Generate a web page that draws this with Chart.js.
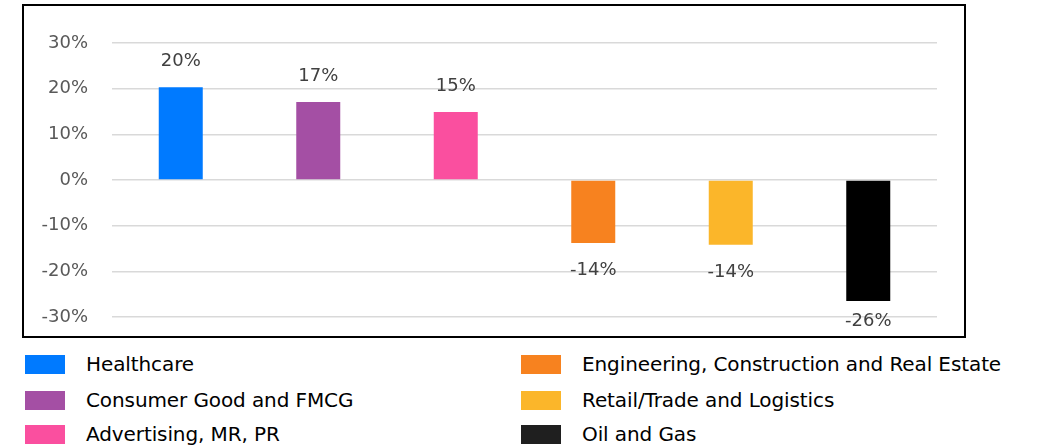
<!DOCTYPE html>
<html>
<head>
<meta charset="utf-8">
<script src="https://cdn.jsdelivr.net/npm/chart.js@4/dist/chart.umd.min.js"></script>
<style>
  body { margin: 0; background: #fff; width: 1053px; height: 448px; overflow: hidden; position: relative; font-family: "DejaVu Sans", Verdana, sans-serif; }
  #box { position: absolute; left: 22px; top: 4px; width: 940px; height: 330px; border: 2px solid #000; }
  #chart { display: block; width: 940px; height: 330px; }
  #legend { position: absolute; left: 0; top: 354px; width: 1053px; }
  .item { position: absolute; display: flex; align-items: center; height: 20px; font-size: 20px; letter-spacing: -0.1px; color: #000; white-space: nowrap; }
  .swatch { width: 40px; height: 19px; margin-right: 21px; flex: none; }
</style>
</head>
<body>
<div id="box"><canvas id="chart" width="940" height="330"></canvas></div>
<div id="legend"></div>
<script>
const categories = ['Healthcare', 'Consumer Good and FMCG', 'Advertising, MR, PR',
    'Engineering, Construction and Real Estate', 'Retail/Trade and Logistics', 'Oil and Gas'];
const changes = [20.3, 17.1, 14.9, -13.8, -14.2, -26.5];
const barColors = ['#007aff', '#a44fa4', '#fa4f9f', '#f7821f', '#fbb62a', '#000000'];
const yTicks = [-30, -20, -10, 0, 10, 20, 30];

// data labels above / below each bar
const valueLabels = {
    id: 'valueLabels',
    afterDatasetsDraw(chart) {
        const ctx = chart.ctx;
        const meta = chart.getDatasetMeta(0);
        ctx.save();
        ctx.font = '18px "DejaVu Sans", Verdana, sans-serif';
        ctx.fillStyle = '#404040';
        ctx.textAlign = 'center';
        ctx.textBaseline = 'middle';
        meta.data.forEach((bar, i) => {
            const v = changes[i];
            let y;
            if (v >= 0) {
                y = bar.y - 26;
            } else {
                y = Math.min(bar.y + 27, chart.chartArea.bottom + 4);
            }
            ctx.fillText(Math.round(v) + '%', bar.x, y);
        });
        ctx.restore();
    }
};

new Chart(document.getElementById('chart'), {
    type: 'bar',
    data: {
        labels: categories,
        datasets: [{
            data: changes,
            backgroundColor: barColors,
            borderWidth: 0,
            categoryPercentage: 1,
            barPercentage: 0.32
        }]
    },
    options: {
        responsive: false,
        maintainAspectRatio: false,
        animation: false,
        layout: { padding: { top: 37, bottom: 19, right: 27, left: 0 } },
        plugins: { legend: { display: false }, tooltip: { enabled: false } },
        scales: {
            x: { display: false },
            y: {
                min: -30,
                max: 30,
                afterFit(scale) {
                    scale.width = 88;
                    // tick padding shouldn't eat vertical space
                    scale.paddingTop = 0;
                    scale.paddingBottom = 0;
                },
                afterBuildTicks(scale) { scale.ticks = yTicks.map(v => ({ value: v })); },
                border: { display: false },
                grid: { color: '#d9d9d9', lineWidth: 1.5, drawTicks: false },
                ticks: {
                    padding: 24,
                    color: '#595959',
                    font: { family: '"DejaVu Sans", Verdana, sans-serif', size: 18 },
                    callback: v => v + '%'
                }
            }
        }
    },
    plugins: [valueLabels]
});

// two-column legend, filled column by column
const legend = document.getElementById('legend');
categories.forEach((name, i) => {
    const col = Math.floor(i / 3);
    const row = i % 3;
    const item = document.createElement('div');
    item.className = 'item';
    item.style.left = (col ? 521 : 25) + 'px';
    item.style.top = [0, 36, 70][row] + 'px';
    item.innerHTML = '<span class="swatch" style="background:' +
        (barColors[i] === '#000000' ? '#1f1f1f' : barColors[i]) + '"></span><span>' + name + '</span>';
    legend.appendChild(item);
});
</script>
</body>
</html>
